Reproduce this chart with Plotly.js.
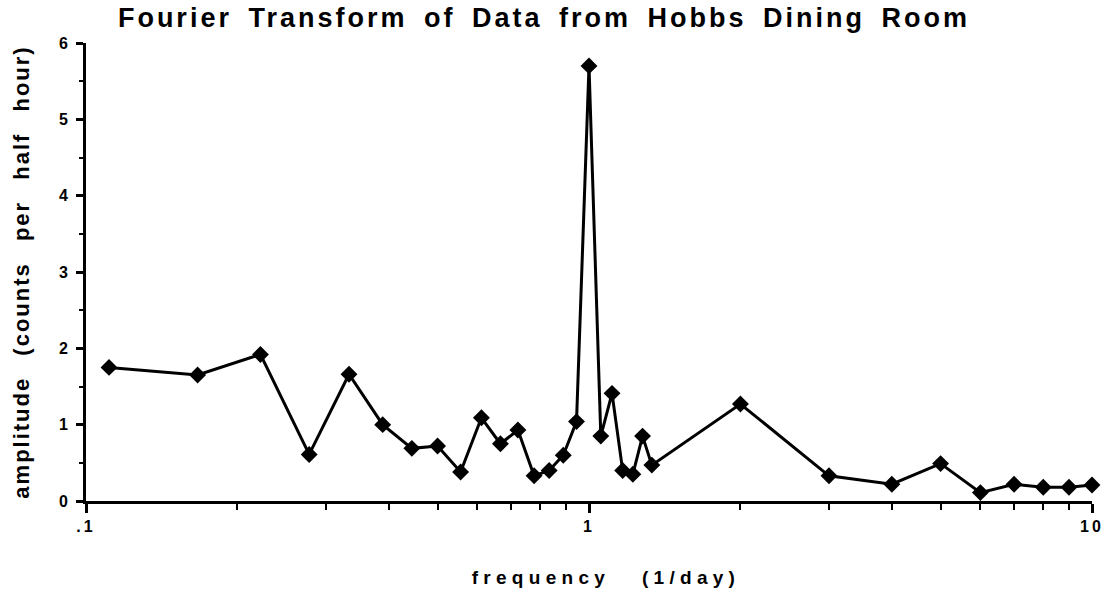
<!DOCTYPE html>
<html>
<head>
<meta charset="utf-8">
<script src="https://cdn.plot.ly/plotly-3.0.1.min.js"></script>
<style>
html,body{margin:0;padding:0;background:#fff;}
#chart{width:1110px;height:594px;}
#chart text.gtitle{letter-spacing:3px;}
#chart text.ytitle{letter-spacing:2px;}
#chart g.annotation text{letter-spacing:5.3px;}
#chart g.xtick text{letter-spacing:3px;}
</style>
</head>
<body>
<div id="chart"></div>
<script>
// frequencies (1/day)
const frequency = [2/18, 3/18, 4/18, 5/18, 6/18, 7/18, 8/18, 9/18, 10/18, 11/18, 12/18, 13/18, 14/18, 15/18, 16/18, 17/18, 18/18, 19/18, 20/18, 21/18, 22/18, 23/18, 24/18, 2, 3, 4, 5, 6, 7, 8, 9, 10];
// amplitude (counts per half hour)
const amplitude = [1.75, 1.65, 1.92, 0.61, 1.66, 1.00, 0.69, 0.72, 0.38, 1.09, 0.75, 0.93, 0.33, 0.40, 0.60, 1.04, 5.70, 0.85, 1.41, 0.40, 0.35, 0.85, 0.47, 1.27, 0.33, 0.22, 0.49, 0.11, 0.22, 0.18, 0.18, 0.21];
const xTickVals = [0.1, 1, 10];
const xTickText = ['.1', '1', '10'];
const xMinorVals = [0.2,0.3,0.4,0.5,0.6,0.7,0.8,0.9,2,3,4,5,6,7,8,9];
const yTickVals = [0,1,2,3,4,5,6];

const NB = '\u00A0';
const EN = '\u2002';
const fontFam = 'Liberation Sans, Arial, sans-serif';

Plotly.newPlot('chart', [{
  x: frequency, y: amplitude, type: 'scatter', mode: 'lines+markers',
  line: {color: '#000', width: 3},
  marker: {symbol: 'diamond', size: 13, color: '#000'},
  cliponaxis: false, showlegend: false
}], {
  width: 1110, height: 594,
  margin: {l: 86, r: 18, t: 43, b: 93},
  paper_bgcolor: '#fff', plot_bgcolor: '#fff',
  title: {
    text: ['Fourier', 'Transform', 'of', 'Data', 'from', 'Hobbs', 'Dining', 'Room'].join(EN),
    font: {family: fontFam, size: 27, weight: 'bold', color: '#000'},
    xref: 'container', x: 0.49, xanchor: 'center',
    yref: 'container', y: 0.971, yanchor: 'middle'
  },
  annotations: [{
    text: 'frequency' + NB+NB+NB + '(1/day)',
    xref: 'paper', x: 0.517, xanchor: 'center',
    yref: 'paper', y: -0.168, yanchor: 'middle',
    showarrow: false,
    font: {family: fontFam, size: 19, weight: 'bold', color: '#000'}
  }],
  xaxis: {
    type: 'log', range: [-1, 1],
    tickmode: 'array', tickvals: xTickVals, ticktext: xTickText,
    ticks: 'outside', ticklen: 9, tickwidth: 3, tickcolor: '#000',
    minor: {tickmode: 'array', tickvals: xMinorVals, ticks: 'outside', ticklen: 6, tickwidth: 2, tickcolor: '#000', showgrid: false},
    showline: true, linecolor: '#000', linewidth: 3,
    showgrid: false, zeroline: false,
    tickfont: {family: fontFam, size: 16, weight: 'bold', color: '#000'}
  },
  yaxis: {
    range: [0, 6],
    tickmode: 'array', tickvals: yTickVals,
    ticks: 'outside', ticklen: 7, tickwidth: 3, tickcolor: '#000',
    minor: {dtick: 0.5, ticks: 'outside', ticklen: 4, tickwidth: 2, tickcolor: '#000', showgrid: false},
    showline: true, linecolor: '#000', linewidth: 3,
    showgrid: false, zeroline: false,
    ticklabelstandoff: 5,
    tickfont: {family: fontFam, size: 16, weight: 'bold', color: '#000'},
    title: {text: ['amplitude', '(counts', 'per', 'half', 'hour)'].join(EN + NB), standoff: 24,
      font: {family: fontFam, size: 22, weight: 'bold', color: '#000'}}
  }
}, {displayModeBar: false, staticPlot: true});
</script>
</body>
</html>
